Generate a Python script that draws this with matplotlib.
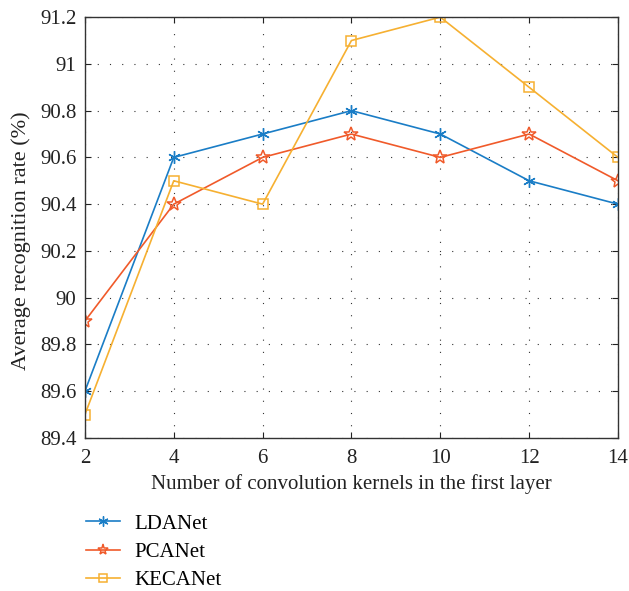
import matplotlib
matplotlib.use("Agg")
import matplotlib.pyplot as plt

x = [2, 4, 6, 8, 10, 12, 14]
ldanet = [89.6, 90.6, 90.7, 90.8, 90.7, 90.5, 90.4]
pcanet = [89.9, 90.4, 90.6, 90.7, 90.6, 90.7, 90.5]
kecanet = [89.5, 90.5, 90.4, 91.1, 91.2, 90.9, 90.6]
xticks = [2, 4, 6, 8, 10, 12, 14]
yticks = [89.4, 89.6, 89.8, 90, 90.2, 90.4, 90.6, 90.8, 91, 91.2]
ytick_labels = ["89.4", "89.6", "89.8", "90", "90.2", "90.4", "90.6", "90.8", "91", "91.2"]

plt.rcParams['font.family'] = ['Liberation Serif', 'DejaVu Serif']

fig = plt.figure(figsize=(6.29, 5.91), dpi=100)
ax = fig.add_axes([0.135, 0.259, 0.8475, 0.712])

c1, c2, c3 = '#1A7DC6', '#F05A2A', '#F6B031'
l1, = ax.plot(x, ldanet, color=c1, marker=(6, 2, 0), markersize=9, lw=1.2, label='LDANet')
l2, = ax.plot(x, pcanet, color=c2, marker='*', markersize=10, markerfacecolor='none', markeredgewidth=1.1, lw=1.2, label='PCANet')
l3, = ax.plot(x, kecanet, color=c3, marker='s', markersize=7, markerfacecolor='none', markeredgewidth=1.1, lw=1.2, label='KECANet')

ax.set_xlim(2, 14)
ax.set_ylim(89.4, 91.2)
ax.set_xticks(xticks)
ax.set_yticks(yticks)
ax.set_yticklabels(ytick_labels)
ax.tick_params(direction='in', labelsize=15, top=True, right=True, length=4, colors='#222222')
ax.tick_params(axis='x', pad=8)
ax.tick_params(axis='y', pad=6)
ax.grid(True, linestyle=(0, (1, 10)), color='#333333', linewidth=0.8)
for s in ax.spines.values():
    s.set_linewidth(1.0)
    s.set_color('#333333')

ax.set_xlabel('Number of convolution kernels in the first layer', fontsize=15, color='#222222', labelpad=4)
ax.set_ylabel('Average recognition rate (%)', fontsize=16, color='#222222')
ax.yaxis.set_label_coords(-0.102, 0.468)

leg = fig.legend(handles=[l1, l2, l3], loc='upper left', bbox_to_anchor=(0.107, 0.162), frameon=False,
                 fontsize=15, handlelength=1.65, handletextpad=0.65, labelspacing=0.42, markerscale=0.8)

fig.savefig('out.png', dpi=100)
